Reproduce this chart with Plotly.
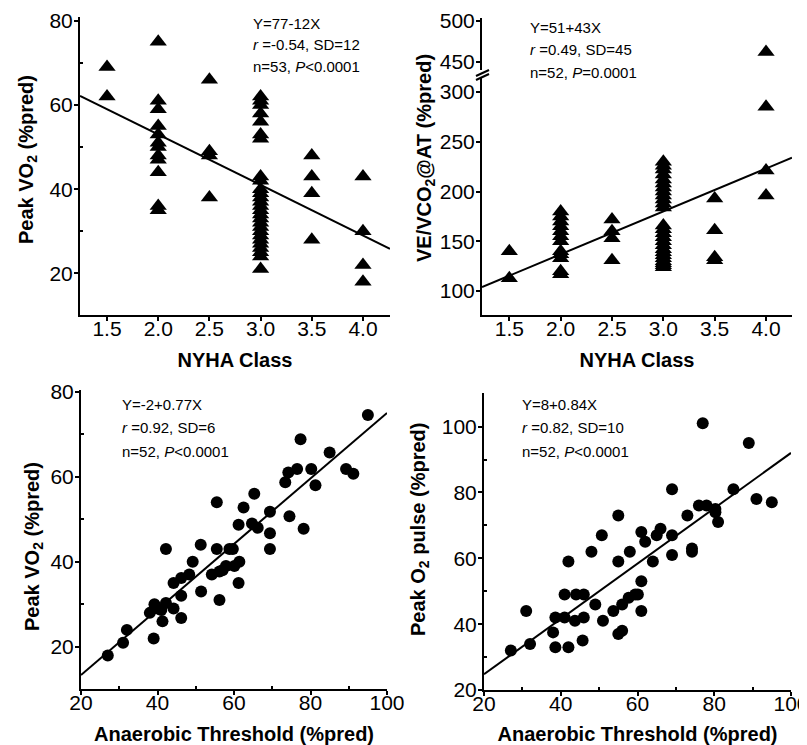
import plotly.graph_objects as go

# ---------------- data ----------------
# Panel A: NYHA class vs Peak VO2 (%pred)
a_nyha = [1.5, 1.5,
          2.0, 2.0, 2.0, 2.0, 2.0, 2.0, 2.0, 2.0, 2.0, 2.0, 2.0, 2.0,
          2.5, 2.5, 2.5, 2.5,
          3.0, 3.0, 3.0, 3.0, 3.0, 3.0, 3.0, 3.0, 3.0, 3.0, 3.0, 3.0, 3.0, 3.0,
          3.0, 3.0, 3.0, 3.0, 3.0, 3.0, 3.0, 3.0, 3.0, 3.0, 3.0, 3.0, 3.0,
          3.5, 3.5, 3.5, 3.5,
          4.0, 4.0, 4.0, 4.0]
a_vo2 = [69, 62,
         75, 61, 59, 55, 53, 51, 50, 48, 47, 44, 36, 35,
         66, 49, 48, 38,
         62, 61, 60, 58, 56, 53, 52, 43, 42, 40, 39, 38, 37, 36,
         35, 34, 33, 32, 31, 30, 29, 28, 27, 26, 25, 24, 21,
         48, 43, 39, 28,
         43, 30, 22, 18]
a_fit = (77, -12)

# Panel B: NYHA class vs VE/VCO2@AT (%pred)
b_nyha = [1.5, 1.5,
          2.0, 2.0, 2.0, 2.0, 2.0, 2.0, 2.0, 2.0, 2.0, 2.0, 2.0, 2.0,
          2.5, 2.5, 2.5, 2.5,
          3.0, 3.0, 3.0, 3.0, 3.0, 3.0, 3.0, 3.0, 3.0, 3.0, 3.0, 3.0, 3.0,
          3.0, 3.0, 3.0, 3.0, 3.0, 3.0, 3.0, 3.0, 3.0, 3.0, 3.0, 3.0, 3.0,
          3.5, 3.5, 3.5, 3.5,
          4.0, 4.0, 4.0, 4.0]
b_vevco2 = [140, 113,
            180, 175, 170, 165, 160, 155, 150, 140, 137, 133, 120, 117,
            172, 160, 153, 131,
            230, 226, 222, 217, 212, 208, 204, 200, 196, 192, 188, 184, 166,
            162, 158, 154, 150, 146, 142, 139, 136, 133, 130, 128, 126, 124,
            193, 161, 134, 131,
            462, 285, 221, 196]
b_fit = (51, 43)
b_break = 320  # values above this sit on the upper (broken) axis segment

# Panel C: Anaerobic threshold vs Peak VO2 (%pred)
c_at = [27, 31, 32, 38, 39, 39.2, 40, 41, 41.3, 42.2, 42.2, 44.2, 44.2, 46.2, 46.2,
        46.2, 48.3, 49.2, 51.3, 51.4, 54.2, 55.5, 55.5, 56.2, 56.2, 57, 57.9, 58.8,
        59.7, 60.1, 61.4, 61.2, 61.2, 62.5, 64.7, 65.3, 66.2, 69.4, 69.4, 69.4, 73.4,
        74.2, 74.5, 76.5, 77.4, 78.2, 80.2, 81.3, 85, 89.3, 91.2, 95]
c_vo2 = [18, 21, 24, 28, 22, 30, 29, 28.7, 26, 30.3, 43, 35, 29, 36.2, 32, 26.8,
         37, 40, 44, 33, 37, 54, 43, 37.7, 31, 38, 39, 43, 43, 39, 40, 35, 48.7,
         52.8, 49, 56, 48, 51.8, 46.7, 43, 58.7, 61, 50.7, 61.8, 68.8, 47.8, 61.8,
         58, 65.7, 61.8, 60.7, 74.5]
c_fit = (-2, 0.77)

# Panel D: Anaerobic threshold vs Peak O2 pulse (%pred)
d_at = [27, 31, 32, 38, 38.6, 38.6, 41, 41, 42, 42, 43.7, 44, 46, 46, 45.7, 48, 49,
        50.7, 51, 53.7, 55, 55, 55, 56, 56, 58, 57.7, 59.4, 60.1, 61, 61, 61, 62,
        64, 65, 66, 69, 69, 69, 73, 74.2, 74.2, 76, 77, 78, 80.3, 80.3, 81, 85, 89,
        91, 95]
d_o2p = [32, 44, 34, 37.5, 42, 33, 49, 42, 33, 59, 41, 49, 49, 42, 35, 62, 46,
         67, 41, 44, 73, 59, 37, 38, 46, 62, 48, 49, 49, 53, 44, 68, 65,
         59, 67, 69, 67, 61, 81, 73, 63, 62, 76, 101, 76, 75, 74, 71, 81, 95,
         78, 77]
d_fit = (8, 0.84)

stats_a = ["Y=77-12X", "<i>r</i> =-0.54, SD=12", "n=53, <i>P</i><0.0001"]
stats_b = ["Y=51+43X", "<i>r</i> =0.49, SD=45", "n=52, <i>P</i>=0.0001"]
stats_c = ["Y=-2+0.77X", "<i>r</i> =0.92, SD=6", "n=52, <i>P</i><0.0001"]
stats_d = ["Y=8+0.84X", "<i>r</i> =0.82, SD=10", "n=52, <i>P</i><0.0001"]

# ---------------- layout helpers ----------------
PAGE_W, PAGE_H = 807, 745
OFF = 8  # default page body margin in the browser
W, H = PAGE_W - OFF, PAGE_H - OFF
FONT = "Arial, Liberation Sans, sans-serif"


def px(x):
    return (x - OFF) / W


def py(y):
    return 1 - (y - OFF) / H


def fit_line(fit, xr):
    b0, b1 = fit
    return list(xr), [b0 + b1 * v for v in xr]


fig = go.Figure()

tri = dict(symbol="triangle-up", size=15, color="black")
dot = dict(symbol="circle", size=12, color="black")
line_style = dict(color="black", width=2)

# ranges
xr_a = (1.236, 4.264)
xr_b = (1.234, 4.253)
xr_c = (20, 100)
xr_d = (20, 100)

# Panel A
fig.add_trace(go.Scatter(x=a_nyha, y=a_vo2, mode="markers", marker=tri,
                         xaxis="x", yaxis="y", showlegend=False))
lx, ly = fit_line(a_fit, xr_a)
fig.add_trace(go.Scatter(x=lx, y=ly, mode="lines", line=line_style,
                         xaxis="x", yaxis="y", showlegend=False))

# Panel B (lower and upper segments)
bl_x = [x for x, y in zip(b_nyha, b_vevco2) if y <= b_break]
bl_y = [y for y in b_vevco2 if y <= b_break]
bu_x = [x for x, y in zip(b_nyha, b_vevco2) if y > b_break]
bu_y = [y for y in b_vevco2 if y > b_break]
fig.add_trace(go.Scatter(x=bl_x, y=bl_y, mode="markers", marker=tri,
                         xaxis="x2", yaxis="y2", showlegend=False))
fig.add_trace(go.Scatter(x=bu_x, y=bu_y, mode="markers", marker=tri,
                         xaxis="x2", yaxis="y5", showlegend=False))
lx, ly = fit_line(b_fit, xr_b)
fig.add_trace(go.Scatter(x=lx, y=ly, mode="lines", line=line_style,
                         xaxis="x2", yaxis="y2", showlegend=False))

# Panel C
fig.add_trace(go.Scatter(x=c_at, y=c_vo2, mode="markers", marker=dot,
                         xaxis="x3", yaxis="y3", showlegend=False))
lx, ly = fit_line(c_fit, xr_c)
fig.add_trace(go.Scatter(x=lx, y=ly, mode="lines", line=line_style,
                         xaxis="x3", yaxis="y3", showlegend=False))

# Panel D
fig.add_trace(go.Scatter(x=d_at, y=d_o2p, mode="markers", marker=dot,
                         xaxis="x4", yaxis="y4", showlegend=False))
lx, ly = fit_line(d_fit, xr_d)
fig.add_trace(go.Scatter(x=lx, y=ly, mode="lines", line=line_style,
                         xaxis="x4", yaxis="y4", showlegend=False))

tickfont = dict(family=FONT, size=21, color="black")
titlefont = dict(family=FONT, size=20, color="black")


def axis(domain, rng, anchor, tickvals, ticktext=None, minor=None, title=None,
         standoff=0):
    d = dict(domain=domain, range=list(rng), anchor=anchor, showgrid=False,
             zeroline=False, showline=True, linecolor="black", linewidth=2,
             ticks="outside", ticklen=4, tickwidth=2, tickcolor="black",
             tickmode="array", tickvals=tickvals, tickfont=tickfont,
             tickangle=0, automargin=False, ticklabeloverflow="allow",
             ticklabelstandoff=standoff)
    if ticktext is not None:
        d["ticktext"] = ticktext
    if minor is not None:
        d["minor"] = dict(tickmode="array", tickvals=minor, ticks="inside",
                          ticklen=3, tickwidth=1.5, tickcolor="black")
    if title is not None:
        d["title"] = dict(text=title, font=titlefont, standoff=14)
    return d


nyha_ticks = [1.5, 2.0, 2.5, 3.0, 3.5, 4.0]
nyha_text = ["1.5", "2.0", "2.5", "3.0", "3.5", "4.0"]
XS, YS = -10, -3  # tick label standoffs

layout = dict(
    width=W, height=H, margin=dict(l=0, r=0, t=0, b=0),
    paper_bgcolor="white", plot_bgcolor="white",
    font=dict(family=FONT, color="black"),
    xaxis=axis([px(80), px(390)], xr_a, "y", nyha_ticks, nyha_text,
               title="<b>NYHA Class</b>", standoff=XS),
    yaxis=axis([py(315), py(17)], (10.1, 80.9), "x", [20, 40, 60, 80],
               minor=[30, 50, 70], standoff=YS),
    xaxis2=axis([px(482), px(792)], xr_b, "y2", nyha_ticks, nyha_text,
                title="<b>NYHA Class</b>", standoff=XS),
    yaxis2=axis([py(315), py(77)], (76, 315), "x2", [100, 150, 200, 250, 300],
                standoff=YS),
    yaxis5=axis([py(70), py(18)], (440.3, 503.3), "x2", [450, 500], standoff=YS),
    xaxis3=axis([px(81), px(387)], xr_c, "y3", [20, 40, 60, 80, 100],
                minor=[30, 50, 70, 90], title="<b>Anaerobic Threshold (%pred)</b>",
                standoff=XS),
    yaxis3=axis([py(689), py(390)], (10.1, 80.4), "x3", [20, 40, 60, 80],
                minor=[30, 50, 70], standoff=YS),
    xaxis4=axis([px(484), px(791)], xr_d, "y4", [20, 40, 60, 80, 100],
                minor=[30, 50, 70, 90], title="<b>Anaerobic Threshold (%pred)</b>",
                standoff=XS),
    yaxis4=axis([py(690), py(393)], (20, 110.2), "x4", [20, 40, 60, 80, 100],
                minor=[30, 50, 70, 90], standoff=YS),
)
fig.update_layout(**layout)

# y-axis titles (rotated annotations, centred as in the reference)
ytitles = [
    ("<b>Peak VO<sub>2</sub> (%pred)</b>", 28, 160),
    ("<b>VE/VCO<sub>2</sub>@AT (%pred)</b>", 426, 158),
    ("<b>Peak VO<sub>2</sub> (%pred)</b>", 33, 547),
    ("<b>Peak O<sub>2</sub> pulse (%pred)</b>", 419, 530),
]
for text, x, y in ytitles:
    fig.add_annotation(text=text, x=px(x), y=py(y), xref="paper", yref="paper",
                       textangle=-90, showarrow=False, xanchor="center",
                       yanchor="middle", font=titlefont)

# statistics text blocks
for lines, x0, ys in [(stats_a, 251, (23, 45, 67)),
                      (stats_b, 528, (28, 50, 72)),
                      (stats_c, 120, (404, 428, 451)),
                      (stats_d, 520, (404, 428, 451))]:
    for t, y in zip(lines, ys):
        fig.add_annotation(text=t, x=px(x0), y=py(y), xref="paper", yref="paper",
                           showarrow=False, xanchor="left", yanchor="middle",
                           font=dict(family=FONT, size=15, color="black"))

# axis-break marks on panel B
for dy in (0, 4):
    fig.add_shape(type="line", xref="paper", yref="paper",
                  x0=px(476), y0=py(76 + dy), x1=px(489), y1=py(70 + dy),
                  line=dict(color="black", width=2))

fig.write_html("out.html")
